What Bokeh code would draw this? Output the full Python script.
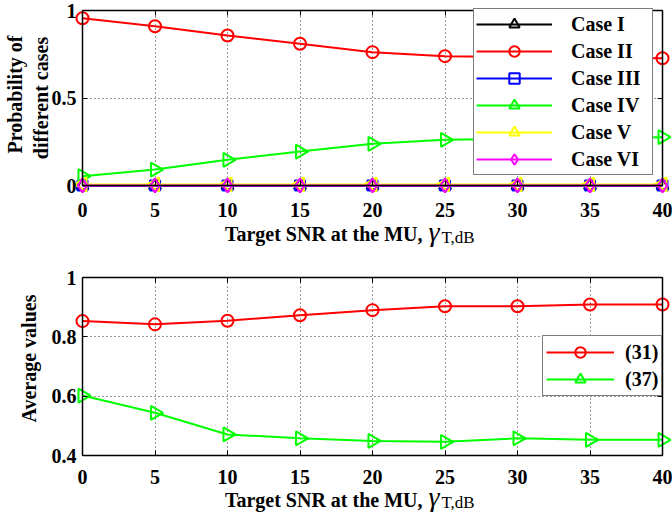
import numpy as np
from bokeh.plotting import figure
from bokeh.layouts import column
from bokeh.models import (FixedTicker, Range1d, Legend, LegendItem, Label,
                          LinearAxis)
from bokeh.embed import file_html
from bokeh.resources import INLINE

# ---------------- data ----------------
snr = [0, 5, 10, 15, 20, 25, 30, 35, 40]
case_I = [0.0, 0.0, 0.0, 0.0, 0.0, 0.0, 0.0, 0.0, 0.0]
case_II = [0.956, 0.910, 0.857, 0.810, 0.762, 0.739, 0.733, 0.730, 0.727]
case_III = [0.0, 0.0, 0.0, 0.0, 0.0, 0.0, 0.0, 0.0, 0.0]
case_IV = [0.053, 0.091, 0.147, 0.194, 0.238, 0.261, 0.267, 0.272, 0.276]
case_V = [0.006, 0.006, 0.006, 0.006, 0.006, 0.006, 0.006, 0.006, 0.006]
case_VI = [0.0, 0.0, 0.0, 0.0, 0.0, 0.0, 0.0, 0.0, 0.0]

avg_31 = [0.853, 0.842, 0.854, 0.873, 0.890, 0.903, 0.903, 0.909, 0.909]
avg_37 = [0.602, 0.544, 0.471, 0.458, 0.449, 0.446, 0.458, 0.453, 0.453]

x_ticks = [0, 5, 10, 15, 20, 25, 30, 35, 40]
x_grid = [5, 10, 15, 20, 25, 30, 35]
y_ticks_top = [0, 0.5, 1]
y_grid_top = [0.5]
y_ticks_bot = [0.4, 0.6, 0.8, 1]
y_grid_bot = [0.6, 0.8]

top_labels = ["Case I", "Case II", "Case III", "Case IV", "Case V", "Case VI"]
bot_labels = ["(31)", "(37)"]

# ---------------- layout constants (pixels) ----------------
W = 672
X0, X1 = 82, 662          # pixel columns of x = 0 and x = 40
FONT = "Liberation Serif"
FS = "20px"
FIX = 7                   # baseline compensation for Label text


def make_fig(H, y_lo, y_hi, py_hi, py_lo):
    """py_hi / py_lo: pixel rows (from top) of y_hi / y_lo."""
    dx = 40.0 / (X1 - X0)
    dy = (y_hi - y_lo) / (py_lo - py_hi)
    p = figure(width=W, height=H, output_backend="svg", toolbar_location=None,
               tools="", title_location=None, min_border=0,
               x_range=Range1d(-X0 * dx, 40 + (W - X1) * dx),
               y_range=Range1d(y_lo - (H - py_lo) * dy, y_hi + py_hi * dy))
    p.outline_line_color = None
    p.xgrid.visible = False
    p.ygrid.visible = False
    p.background_fill_color = "white"
    p.border_fill_color = "white"
    return p


def style_axis(ax, ticks, bounds, loc, labels=True):
    ax.ticker = FixedTicker(ticks=ticks)
    ax.bounds = bounds
    ax.fixed_location = loc
    ax.axis_line_color = "black"
    ax.axis_line_width = 1.5
    ax.major_tick_in = 5
    ax.major_tick_out = 0
    ax.minor_tick_in = 0
    ax.minor_tick_out = 0
    ax.major_tick_line_color = "black"
    ax.major_tick_line_width = 1
    ax.minor_tick_line_color = None
    ax.major_label_text_font = FONT
    ax.major_label_text_font_style = "bold"
    ax.major_label_text_font_size = FS
    ax.major_label_text_color = "black" if labels else None


def grid_axis(ticks, loc, length):
    ax = LinearAxis(ticker=FixedTicker(ticks=ticks), fixed_location=loc,
                    axis_line_color=None, major_label_text_color=None,
                    major_tick_in=length, major_tick_out=0,
                    minor_tick_in=0, minor_tick_out=0,
                    major_tick_line_color="#333333", major_tick_line_width=1,
                    major_tick_line_dash="1 3", minor_tick_line_color=None,
                    level="underlay")
    return ax


def frame_axes(p, y_lo, y_hi, yticks, ygrid, px_h, x_standoff):
    style_axis(p.xaxis[0], x_ticks, (0, 40), y_lo)
    p.xaxis[0].major_label_standoff = x_standoff
    style_axis(p.yaxis[0], yticks, (y_lo, y_hi), 0)
    p.yaxis[0].major_label_standoff = 6
    top = LinearAxis()
    style_axis(top, x_ticks, (0, 40), y_hi, labels=False)
    p.add_layout(top, "above")
    right = LinearAxis()
    style_axis(right, yticks, (y_lo, y_hi), 40, labels=False)
    p.add_layout(right, "right")
    p.add_layout(grid_axis(x_grid, y_lo, px_h), "below")
    p.add_layout(grid_axis(ygrid, 0, X1 - X0), "left")


def text(p, x, y, s, size=FS, style="bold", angle=0.0, align="left"):
    if angle == 0.0:
        y = y + FIX
    else:
        x = x - FIX
    p.add_layout(Label(x=x, y=y, x_units="screen", y_units="screen", text=s,
                       text_font=FONT, text_font_style=style,
                       text_font_size=size, angle=angle, text_align=align,
                       text_baseline="alphabetic", text_color="black"))


def xlabel(p, base):
    text(p, 422, base, "Target SNR at the MU,", align="right")
    text(p, 428, base + 3, "\u03b3", size="28px", style="italic")
    text(p, 441, base - 3, "T,dB", size="17px", style="normal")


# ---------------- top figure ----------------
H1 = 250
p1 = make_fig(H1, 0.0, 1.0, 10, 185)
frame_axes(p1, 0.0, 1.0, y_ticks_top, y_grid_top, 175, 17)

series_top = [
    (case_I, "black", "triangle", 0.0, 12),
    (case_II, "red", "circle", 0.0, 12),
    (case_III, "blue", "square", 0.0, 10),
    (case_IV, "#00ff00", "triangle", -np.pi / 2, 14),
    (case_V, "#ffff00", "triangle", np.pi / 2, 14),
    (case_VI, "#ff00ff", "diamond", 0.0, 14),
]
items_top = []
for name, (ys, col, mk, ang, sz) in zip(top_labels, series_top):
    r1 = p1.line(snr, ys, line_color=col, line_width=2)
    r2 = p1.scatter(snr, ys, marker=mk, size=sz, angle=ang,
                    line_color=col, line_width=2, fill_color=None)
    items_top.append(LegendItem(label=name, renderers=[r1, r2]))

leg1 = Legend(items=items_top, location=(473, H1 - 175),
              label_text_font=FONT, label_text_font_style="bold",
              label_text_font_size=FS, label_text_color="black",
              glyph_width=76, glyph_height=26, label_height=20,
              label_width=79, spacing=1, padding=2, label_standoff=19,
              margin=0, border_line_color="black", border_line_width=1,
              background_fill_color="white", background_fill_alpha=1)
p1.add_layout(leg1)

text(p1, 21.8, H1 - 94, "Probability of", angle=np.pi / 2, align="center")
text(p1, 47, H1 - 97.5, "different cases", angle=np.pi / 2, align="center")
xlabel(p1, H1 - 240.7)

# ---------------- bottom figure ----------------
H2 = 267
p2 = make_fig(H2, 0.4, 1.0, 27, 205)
frame_axes(p2, 0.4, 1.0, y_ticks_bot, y_grid_bot, 178, 14)

series_bot = [
    (avg_31, "red", "circle", 0.0, 12),
    (avg_37, "#00ff00", "triangle", -np.pi / 2, 14),
]
items_bot = []
for name, (ys, col, mk, ang, sz) in zip(bot_labels, series_bot):
    r1 = p2.line(snr, ys, line_color=col, line_width=2)
    r2 = p2.scatter(snr, ys, marker=mk, size=sz, angle=ang,
                    line_color=col, line_width=2, fill_color=None)
    items_bot.append(LegendItem(label=name, renderers=[r1, r2]))

leg2 = Legend(items=items_bot, location=(542, H2 - 146),
              label_text_font=FONT, label_text_font_style="bold",
              label_text_font_size=FS, label_text_color="black",
              glyph_width=68, glyph_height=26, label_height=20,
              spacing=1, padding=3, label_standoff=11,
              margin=0, border_line_color="black", border_line_width=1,
              background_fill_color="white", background_fill_alpha=1)
p2.add_layout(leg2)

text(p2, 35, H2 - 108, "Average values", angle=np.pi / 2, align="center")
xlabel(p2, H2 - 256)

layout = column(p1, p2)
open("out.html", "w").write(file_html(layout, INLINE))
